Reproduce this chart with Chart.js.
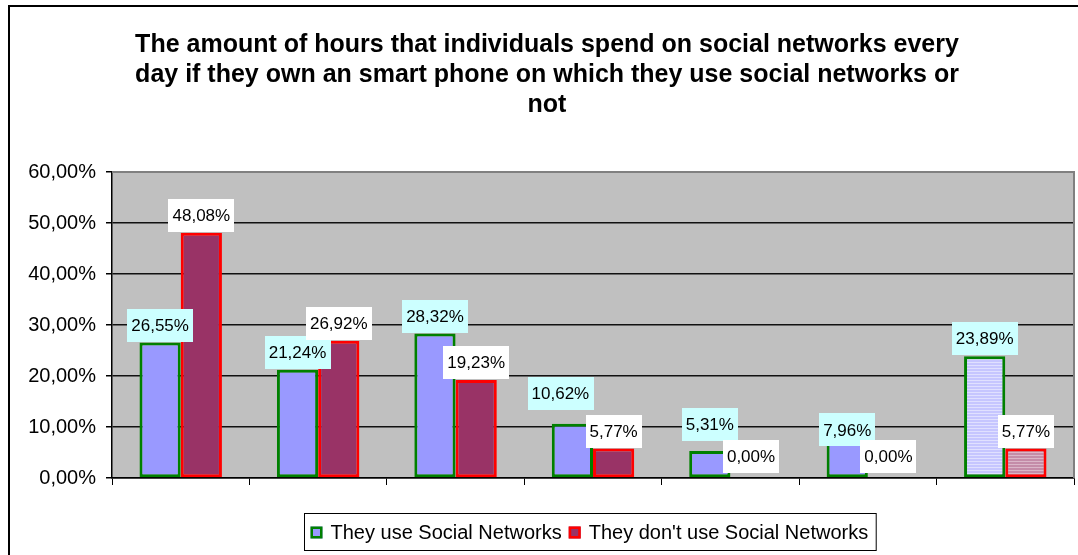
<!DOCTYPE html>
<html lang="en">
<head>
  <meta charset="UTF-8">
  <title>Hours on social networks</title>
  <script src="https://cdn.jsdelivr.net/npm/chart.js"></script>
  <style>
    body { margin: 0; background: #fff; }
    #wrap { width: 1078px; height: 555px; }
  </style>
</head>
<body>
  <div id="wrap"><canvas id="hoursChart"></canvas></div>

  <script>
    // data
    const categories = ['', '', '', '', '', '', ''];
    const useSocial = [26.55, 21.24, 28.32, 10.62, 5.31, 7.96, 23.89];
    const dontUseSocial = [48.08, 26.92, 19.23, 5.77, 0.00, 0.00, 5.77];
    const seriesNames = ['They use Social Networks', "They don't use Social Networks"];
    const titleLines = [
      'The amount of hours that individuals spend on social networks every',
      'day if they own an smart phone on which they use social networks or',
      'not'
    ];

    const FONT = '"Liberation Sans", Arial, sans-serif';

    function fmtPct(v) {
      return v.toFixed(2).replace('.', ',') + '%';
    }

    // striped fill used for the last group
    function stripes(a, b) {
      const c = document.createElement('canvas');
      c.width = 4; c.height = 3;
      const g = c.getContext('2d');
      g.fillStyle = a; g.fillRect(0, 0, 4, 2);
      g.fillStyle = b; g.fillRect(0, 2, 4, 1);
      return g.createPattern(c, 'repeat');
    }
    const blueStripes = stripes('#C6C6FF', '#E0E0FF');
    const redStripes = stripes('#C48CA8', '#DAB6C8');

    // plot background, plot frame and outer border
    const framePlugin = {
      id: 'frame',
      beforeDraw(chart) {
        const { ctx, chartArea: a } = chart;
        ctx.save();
        ctx.fillStyle = '#C0C0C0';
        ctx.fillRect(a.left, a.top, a.right - a.left, a.bottom - a.top);
        ctx.strokeStyle = '#000';
        ctx.lineWidth = 2;
        ctx.strokeRect(9, 6, chart.width, chart.height);
        ctx.restore();
      },
      beforeDatasetsDraw(chart) {
        const { ctx, chartArea: a } = chart;
        ctx.save();
        ctx.strokeStyle = '#808080';
        ctx.lineWidth = 2;
        ctx.beginPath();
        ctx.moveTo(a.left, a.top);
        ctx.lineTo(a.right, a.top);
        ctx.lineTo(a.right, a.bottom);
        ctx.stroke();
        ctx.restore();
      }
    };

    // value labels in boxes above the bars
    const labelPlugin = {
      id: 'boxLabels',
      afterDatasetsDraw(chart, args, opts) {
        const { ctx } = chart;
        ctx.save();
        ctx.font = '17px ' + FONT;
        ctx.textAlign = 'center';
        ctx.textBaseline = 'middle';
        chart.data.datasets.forEach((ds, di) => {
          chart.getDatasetMeta(di).data.forEach((bar, i) => {
            const txt = fmtPct(ds.data[i]);
            const nudge = opts.nudge[di + '-' + i] || [0, 0];
            const w = ctx.measureText(txt).width + 8;
            const h = 33;
            const cx = bar.x + nudge[0];
            const bottom = bar.y - 1 + nudge[1];
            ctx.fillStyle = opts.fills[di];
            ctx.fillRect(Math.round(cx - w / 2), Math.round(bottom - h), Math.round(w), h);
            ctx.fillStyle = '#000';
            ctx.fillText(txt, cx, bottom - h / 2 + 1);
          });
        });
        ctx.restore();
      }
    };

    // boxed legend under the plot
    const legendBoxPlugin = {
      id: 'legendBox',
      afterDraw(chart) {
        const { ctx, chartArea: a } = chart;
        ctx.save();
        ctx.font = '20px ' + FONT;
        ctx.textBaseline = 'middle';
        const items = chart.data.datasets.map(ds => ({
          text: ds.label, fill: ds.legendFill, border: ds.borderColor,
          w: ctx.measureText(ds.label).width
        }));
        let width = 6;
        items.forEach(it => { width += 12 + 8 + it.w + 7; });
        width += 1;
        const left = Math.round(590 - width / 2) + 0.5;
        const top = a.bottom + 35.5;
        ctx.strokeStyle = '#000';
        ctx.lineWidth = 1;
        ctx.strokeRect(left, top, width, 37);
        let x = left + 6;
        const cy = top + 19;
        items.forEach(it => {
          ctx.fillStyle = it.fill;
          ctx.fillRect(x, cy - 6, 12, 12);
          ctx.strokeStyle = it.border;
          ctx.lineWidth = 2.5;
          ctx.strokeRect(x + 1.25, cy - 4.75, 9.5, 9.5);
          ctx.fillStyle = '#000';
          ctx.fillText(it.text, x + 20, cy + 1);
          x += 12 + 8 + it.w + 7;
        });
        ctx.restore();
      }
    };

    const ctx = document.getElementById('hoursChart').getContext('2d');
    const hoursChart = new Chart(ctx, {
      type: 'bar',
      data: {
        labels: categories,
        datasets: [
          {
            label: seriesNames[0],
            data: useSocial,
            backgroundColor: c => c.dataIndex === 6 ? blueStripes : '#9999FF',
            legendFill: '#9999FF',
            borderColor: '#008000',
            borderWidth: 3,
            borderSkipped: false
          },
          {
            label: seriesNames[1],
            data: dontUseSocial,
            backgroundColor: c => c.dataIndex === 6 ? redStripes : '#993366',
            legendFill: '#993366',
            borderColor: '#FF0000',
            borderWidth: 3,
            borderSkipped: false
          }
        ]
      },
      options: {
        responsive: true,
        maintainAspectRatio: false,
        animation: false,
        layout: { padding: { left: 20, right: 4, top: 0, bottom: 69 } },
        datasets: { bar: { categoryPercentage: 0.6, barPercentage: 1.0 } },
        scales: {
          x: {
            ticks: { display: false },
            grid: { display: true, drawOnChartArea: false, drawTicks: true, tickLength: 7, color: '#000', offset: true },
            border: { display: true, color: '#000', width: 1.5 },
            afterFit(scale) { scale.height = 8; }
          },
          y: {
            min: 0,
            max: 60,
            ticks: {
              stepSize: 10,
              padding: 10,
              color: '#000',
              font: { family: FONT, size: 20 },
              callback: v => fmtPct(v)
            },
            grid: {
              color: c => (c.tick && c.tick.value === 60) ? 'rgba(0,0,0,0)' : '#111',
              tickColor: '#000',
              tickLength: 6,
              lineWidth: 1.5
            },
            border: { display: true, color: '#000', width: 1.5 },
            afterFit(scale) { scale.width = 92; }
          }
        },
        plugins: {
          legend: { display: false },
          tooltip: { enabled: false },
          title: {
            display: true,
            text: titleLines,
            color: '#000',
            font: { family: FONT, size: 25, weight: 'bold', lineHeight: 1.2 },
            padding: { top: 30, bottom: 52 }
          },
          boxLabels: {
            fills: ['#CCFFFF', '#FFFFFF'],
            nudge: { '0-3': [-12, -13], '0-4': [0, -9], '0-5': [0, 10], '1-4': [0, -4], '1-5': [0, -4] }
          }
        }
      },
      plugins: [framePlugin, labelPlugin, legendBoxPlugin]
    });
  </script>
</body>
</html>
